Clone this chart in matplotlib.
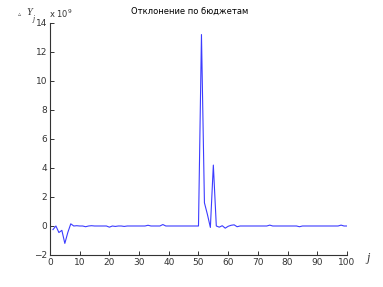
import matplotlib
matplotlib.use("Agg")
import matplotlib.pyplot as plt
import numpy as np

# deviation values, units of 1e9, for j = 1..100
j = np.arange(1, 101)
dev = [
    -0.25, 0.0, -0.45, -0.3, -1.2, -0.45, 0.15, 0.0, 0.02, 0.0,
    0.0, -0.05, 0.0, 0.02, 0.0, 0.0, 0.0, 0.0, 0.0, -0.08,
    0.0, -0.03, 0.0, 0.0, -0.03, 0.0, 0.0, 0.0, 0.0, 0.0,
    0.0, 0.0, 0.05, 0.0, 0.0, 0.0, 0.0, 0.1, 0.0, 0.0,
    0.0, 0.0, 0.0, 0.0, 0.0, 0.0, 0.0, 0.0, 0.0, 0.0,
    13.2, 1.6, 0.8, -0.1, 4.2, 0.0, -0.08, 0.02, -0.15, -0.02,
    0.05, 0.08, -0.05, 0.0, 0.0, 0.0, 0.0, 0.0, 0.0, 0.0,
    0.0, 0.0, 0.0, 0.06, 0.0, 0.0, 0.0, 0.0, 0.0, 0.0,
    0.0, 0.0, 0.0, -0.05, 0.0, 0.0, 0.0, 0.0, 0.0, 0.0,
    0.0, 0.0, 0.0, 0.0, 0.0, 0.0, 0.0, 0.06, 0.0, 0.0,
]
xticks = np.arange(0, 101, 10)
yticks = np.arange(-2, 15, 2)

fig = plt.figure(figsize=(3.83, 2.87), dpi=100)
ax = fig.add_axes([0.1305, 0.1115, 0.7755, 0.8085])
ax.plot(j, dev, color="#3c3cff", lw=0.8)

ax.set_xlim(0, 100)
ax.set_ylim(-2, 14)
ax.set_xticks(xticks)
ax.set_yticks(yticks)
ax.tick_params(direction="in", length=3, width=0.7, labelsize=6.5, colors="#333333", pad=2)
for s in ["top", "right"]:
    ax.spines[s].set_visible(False)
for s in ["left", "bottom"]:
    ax.spines[s].set_color("#333333")
    ax.spines[s].set_linewidth(0.8)

fig.text(0.495, 0.975, "Отклонение по бюджетам", ha="center", va="top", fontsize=6)
fig.text(0.045, 0.952, r"$\vartriangle$", ha="left", va="center", fontsize=4.5, color="#555555")
fig.text(0.068, 0.955, "Y", ha="left", va="center", fontsize=7.5, color="#333333",
         family="Liberation Serif", style="italic")
fig.text(0.086, 0.935, "j", ha="left", va="center", fontsize=5.5, color="#333333",
         family="Liberation Serif", style="italic")
fig.text(0.127, 0.952, r"x 10$^9$", ha="left", va="center", fontsize=6, color="#333333")
fig.text(0.962, 0.1, "j", ha="center", va="center", fontsize=9, color="#333333",
         family="Liberation Serif", style="italic")

fig.savefig("out.png", dpi=100)
